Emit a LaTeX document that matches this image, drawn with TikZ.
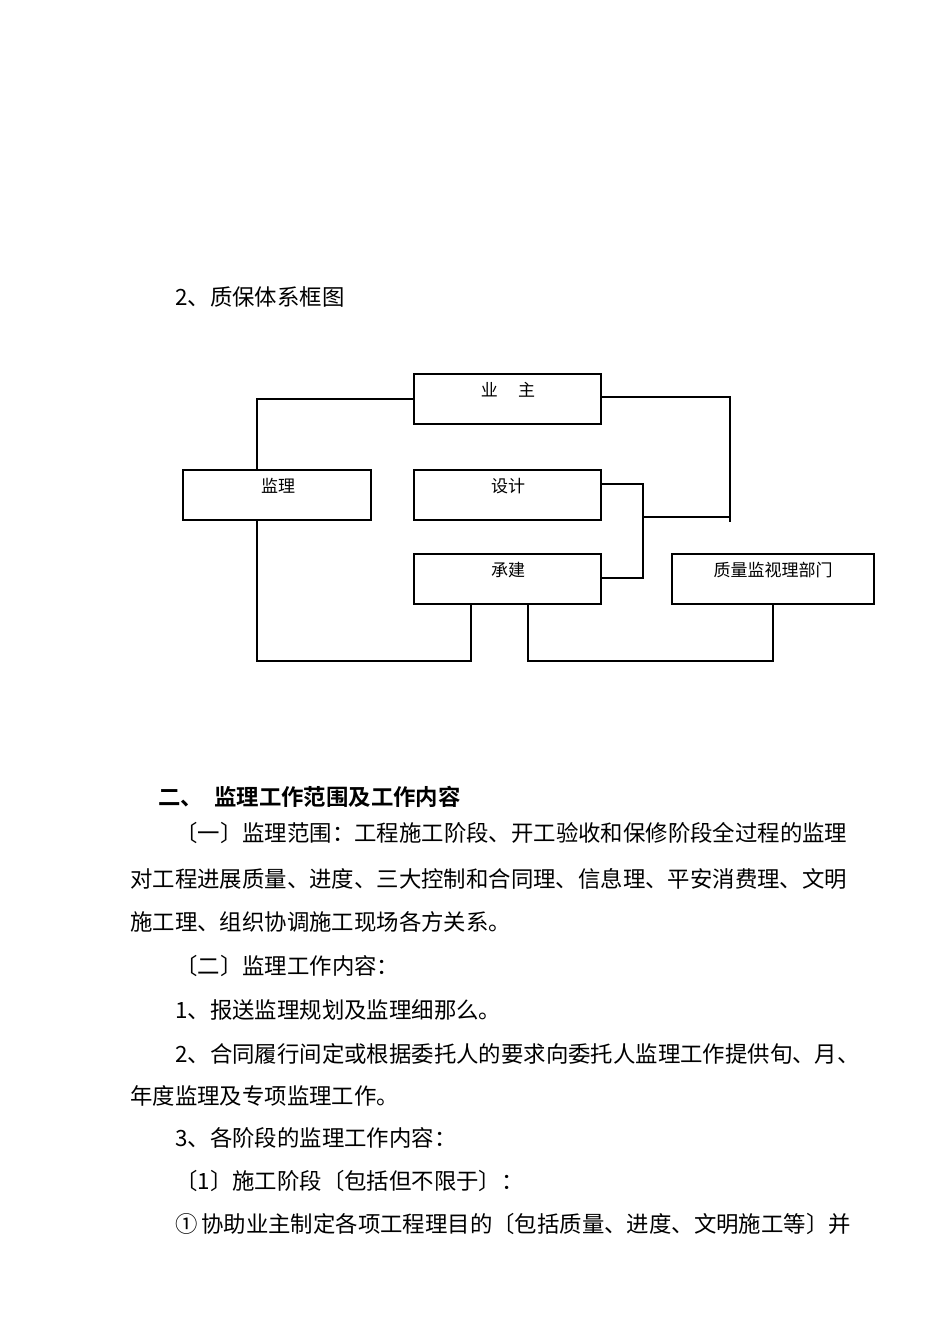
\documentclass[tikz,border=0pt]{standalone}
\usepackage{fontspec}
\newfontfamily\cjk{Noto Sans CJK SC}
\newfontfamily\cjkb{Noto Sans CJK SC Bold}
\begin{document}
\begin{tikzpicture}[x=1pt,y=-1pt,
  box/.style={draw,line width=1.2pt},
  ln/.style={line width=1.2pt},
  lbl/.style={font=\cjk\fontsize{17}{20}\selectfont,anchor=base},
  txt/.style={font=\cjk\fontsize{22.4}{26}\selectfont,anchor=base west,inner sep=0}]
\fill[white] (0,0) rectangle (950,1344);
\useasboundingbox (0,0) rectangle (950,1344);
\node[txt] (t0) at (175,305) {2、质保体系框图};
\draw[box] (414,374) rectangle (601,424);
\draw[box] (183,470) rectangle (371,520);
\draw[box] (414,470) rectangle (601,520);
\draw[box] (414,554) rectangle (601,604);
\draw[box] (672,554) rectangle (874,604);
\node[lbl] (yz) at (508,396) {业\hspace{1.2em}主};
\node[lbl] (jl) at (278,492) {监理};
\node[lbl] (sj) at (508,492) {设计};
\node[lbl] (cj) at (508,576) {承建};
\node[lbl] (zl) at (773,576) {质量监视理部门};
\draw[ln] (414,399) -- (257,399) -- (257,470);
\draw[ln] (601,397) -- (730,397) -- (730,522);
\draw[ln] (601,484) -- (643,484) -- (643,578) -- (601,578);
\draw[ln] (643,517) -- (730,517);
\draw[ln] (257,520) -- (257,661) -- (471,661) -- (471,604);
\draw[ln] (528,604) -- (528,661) -- (773,661) -- (773,604);
\node[txt,font=\cjkb\fontsize{22.4}{26}\selectfont] (h) at (158,805) {二、\hspace{0.5em}监理工作范围及工作内容};
\node[txt] (l1) at (175,841) {〔一〕监理范围：工程施工阶段、开工验收和保修阶段全过程的监理};
\node[txt] (l2) at (130,887) {对工程进展质量、进度、三大控制和合同理、信息理、平安消费理、文明};
\node[txt] (l3) at (130,930) {施工理、组织协调施工现场各方关系。};
\node[txt] (l4) at (175,974) {〔二〕监理工作内容：};
\node[txt] (l5) at (175,1018) {1、报送监理规划及监理细那么。};
\node[txt] (l6) at (175,1062) {2、合同履行间定或根据委托人的要求向委托人监理工作提供旬、月、};
\node[txt] (l7) at (130,1104) {年度监理及专项监理工作。};
\node[txt] (l8) at (175,1146) {3、各阶段的监理工作内容：};
\node[txt] (l9) at (175,1189) {〔1〕施工阶段〔包括但不限于〕：};
\node[txt] (l10) at (175,1232) {①\,协助业主制定各项工程理目的〔包括质量、进度、文明施工等〕并};
\end{tikzpicture}
\end{document}
